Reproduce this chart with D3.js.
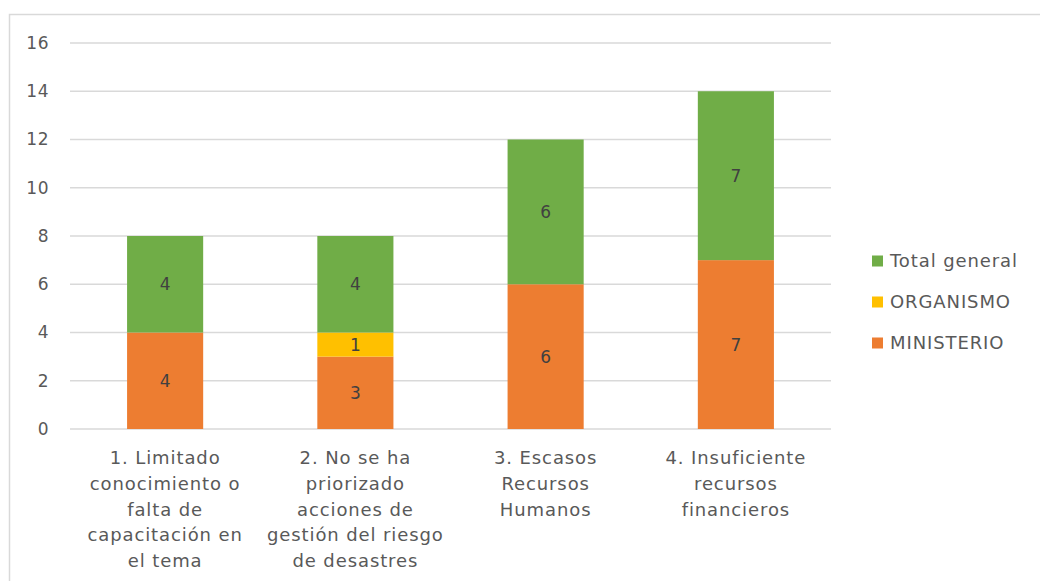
<!DOCTYPE html>
<html><head><meta charset="utf-8">
<script src="https://cdn.jsdelivr.net/npm/d3@7"></script>
<style>body{margin:0;background:#fff;} svg{display:block;}</style>
</head><body>
<svg id="chart" width="1040" height="581"></svg>
<script>
const categories = [
  ["1. Limitado","conocimiento o","falta de","capacitación en","el tema"],
  ["2. No se ha","priorizado","acciones de","gestión del riesgo","de desastres"],
  ["3. Escasos","Recursos","Humanos"],
  ["4. Insuficiente","recursos","financieros"]
];
const seriesNames = ["MINISTERIO","ORGANISMO","Total general"];
const ministerio = [4,3,6,7];
const organismo = [0,1,0,0];
const totalGeneral = [4,4,6,7];
const yTicks = [0,2,4,6,8,10,12,14,16];
const colors = ["#ED7D31","#FFC000","#70AD47"];

const font = "'DejaVu Sans', sans-serif";
const svg = d3.select("#chart");
svg.append("rect").attr("x",9.5).attr("y",14.5).attr("width",1100).attr("height",700)
  .attr("fill","none").attr("stroke","#d9d9d9").attr("stroke-width",1.5);

const pLeft = 70, pRight = 831, pTop = 43, pBottom = 429;
const idx = categories.map((c,i)=>i);
const x = d3.scaleBand().domain(idx).range([pLeft,pRight]).paddingInner(0.6).paddingOuter(0.3);
const y = d3.scaleLinear().domain([0,16]).range([pBottom,pTop]);

// gridlines
svg.append("g").selectAll("line").data(yTicks).join("line")
  .attr("x1",pLeft).attr("x2",pRight)
  .attr("y1",d=>y(d)).attr("y2",d=>y(d))
  .attr("stroke","#d9d9d9").attr("stroke-width",1.5);

// y axis labels
const yAxis = d3.axisLeft(y).tickValues(yTicks).tickSize(0).tickPadding(21);
const yg = svg.append("g").attr("transform",`translate(${pLeft},0)`).call(yAxis);
yg.select(".domain").remove();
yg.selectAll("text").attr("font-family",font).attr("font-size",17).attr("letter-spacing",0.5).attr("fill","#595959");

// stacked data
const rows = idx.map(i=>({i, MINISTERIO:ministerio[i], ORGANISMO:organismo[i], "Total general":totalGeneral[i]}));
const stack = d3.stack().keys(seriesNames)(rows);
const layers = svg.append("g").selectAll("g").data(stack).join("g").attr("fill",(d,k)=>colors[k]);
layers.selectAll("rect").data(d=>d).join("rect")
  .attr("x",d=>x(d.data.i)).attr("width",x.bandwidth())
  .attr("y",d=>y(d[1])).attr("height",d=>y(d[0])-y(d[1]));
layers.selectAll("text").data(d=>d.filter(p=>p[1]-p[0]>0)).join("text")
  .attr("x",d=>x(d.data.i)+x.bandwidth()/2)
  .attr("y",d=>(y(d[0])+y(d[1]))/2)
  .attr("dy","0.35em").attr("text-anchor","middle")
  .attr("font-family",font).attr("font-size",17).attr("fill","#404040")
  .text(d=>d[1]-d[0]);

// x axis labels
const xg = svg.append("g");
idx.forEach(i=>{
  const t = xg.append("text").attr("text-anchor","middle")
    .attr("font-family",font).attr("font-size",18).attr("letter-spacing",0.9).attr("fill","#595959");
  categories[i].forEach((line,j)=>{
    t.append("tspan").attr("x",x(i)+x.bandwidth()/2).attr("y",464+j*25.8).text(line);
  });
});

// legend
const legendItems = [2,1,0];
const lg = svg.append("g");
legendItems.forEach((k,j)=>{
  const cy = 261 + j*41;
  lg.append("rect").attr("x",872).attr("y",cy-5.5).attr("width",11).attr("height",11).attr("fill",colors[k]);
  lg.append("text").attr("x",890).attr("y",cy).attr("dy","0.35em")
    .attr("font-family",font).attr("font-size",18).attr("letter-spacing",0.9).attr("fill","#595959").text(seriesNames[k]);
});
</script>
</body></html>
